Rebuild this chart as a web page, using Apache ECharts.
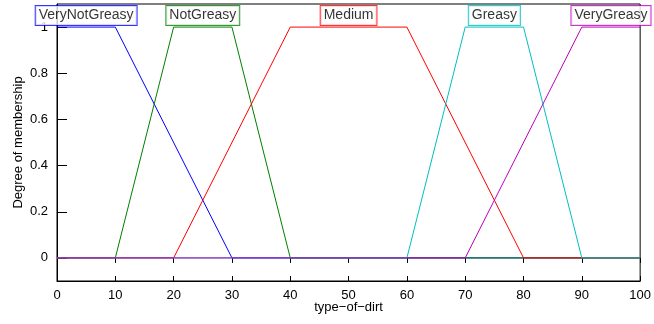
<!DOCTYPE html>
<html>
<head>
<meta charset="utf-8">
<script src="https://cdn.jsdelivr.net/npm/echarts@6/dist/echarts.min.js"></script>
<style>
  html, body { margin: 0; padding: 0; background: #fff; }
  #chart { width: 654px; height: 324px; }
</style>
</head>
<body>
<div id="chart"></div>
<script>
// membership functions (trapezoid break points, x then degree)
var mfNames = ['VeryNotGreasy', 'NotGreasy', 'Medium', 'Greasy', 'VeryGreasy'];
var mfColors = ['#0000ff', '#008000', '#ff0000', '#00bfbf', '#bf00bf'];
var mfX = [
	[0, 10, 30, 100],
	[0, 10, 20, 30, 40, 100],
	[0, 20, 40, 60, 80, 100],
	[0, 60, 70, 80, 90, 100],
	[0, 70, 90, 100]
];
var mfY = [
	[1, 1, 0, 0],
	[0, 0, 1, 1, 0, 0],
	[0, 0, 1, 1, 0, 0],
	[0, 0, 1, 1, 0, 0],
	[0, 0, 1, 1]
];
// label positions of the names
var labelX = [5, 25, 50, 75, 95];
var labelY = 1.05;
var yTicks = [0, 0.2, 0.4, 0.6, 0.8, 1];

var font = 'Liberation Sans, Arial, sans-serif';

var series = [];
for (var i = 0; i < mfNames.length; i++) {
	var pts = [];
	for (var j = 0; j < mfX[i].length; j++) {
		pts.push([mfX[i][j], mfY[i][j]]);
	}
	series.push({
		type: 'line',
		name: mfNames[i],
		data: pts,
		symbol: 'none',
		silent: true,
		z: 2 + i,
		lineStyle: { color: mfColors[i], width: 1 }
	});
}
series.push({
	type: 'scatter',
	symbolSize: 0,
	silent: true,
	z: 20,
	data: labelX.map(function(x, k) {
		return {
			value: [x, labelY],
			label: {
				show: true,
				position: 'inside',
				formatter: mfNames[k],
				color: '#000',
				fontFamily: font,
				fontSize: 14,
				backgroundColor: '#fff',
				borderColor: mfColors[k],
				borderWidth: 1,
				padding: [3, 3, 2, 3]
			}
		};
	})
});

// extra y axes only draw the tick marks just inside the frame
function tickAxis(pos) {
	return {
		type: 'value',
		position: pos,
		offset: -5,
		min: -0.1, max: 1.1,
		axisLine: { show: false },
		axisTick: { show: true, inside: false, length: 5, customValues: yTicks, lineStyle: { color: '#000' } },
		axisLabel: { show: false, customValues: yTicks },
		splitLine: { show: false }
	};
}

var chart = echarts.init(document.getElementById('chart'), null, { renderer: 'canvas' });
chart.setOption({
	animation: false,
	backgroundColor: '#fff',
	grid: {
		left: 57, right: 13, top: 4, bottom: 43,
		show: true, borderColor: '#000', borderWidth: 1, backgroundColor: 'transparent'
	},
	xAxis: [{
		type: 'value',
		min: 0, max: 100, interval: 10,
		name: 'type\u2212of\u2212dirt',
		nameLocation: 'middle',
		nameGap: 20,
		nameMoveOverlap: false,
		nameTextStyle: { color: '#000', fontFamily: font, fontSize: 13 },
		axisLine: { show: true, onZero: false, lineStyle: { color: '#000', width: 1 } },
		axisTick: { show: true, inside: true, length: 5, lineStyle: { color: '#000' } },
		axisLabel: { color: '#000', fontFamily: font, fontSize: 13, margin: 8 },
		splitLine: { show: false }
	}, {
		type: 'value',
		position: 'top',
		min: 0, max: 100, interval: 10,
		axisLine: { show: false },
		axisTick: { show: true, inside: true, length: 5, lineStyle: { color: '#000' } },
		axisLabel: { show: false },
		splitLine: { show: false }
	}],
	yAxis: [{
		type: 'value',
		min: -0.1, max: 1.1,
		name: 'Degree of membership',
		nameLocation: 'middle',
		nameGap: 32,
		nameMoveOverlap: false,
		nameTextStyle: { color: '#000', fontFamily: font, fontSize: 13 },
		axisLine: { show: true, onZero: false, lineStyle: { color: '#000', width: 1 } },
		axisTick: { show: false },
		axisLabel: { color: '#000', fontFamily: font, fontSize: 13, margin: 9, customValues: yTicks },
		splitLine: { show: false }
	}, tickAxis('left'), tickAxis('right')],
	series: series
});
</script>
</body>
</html>
